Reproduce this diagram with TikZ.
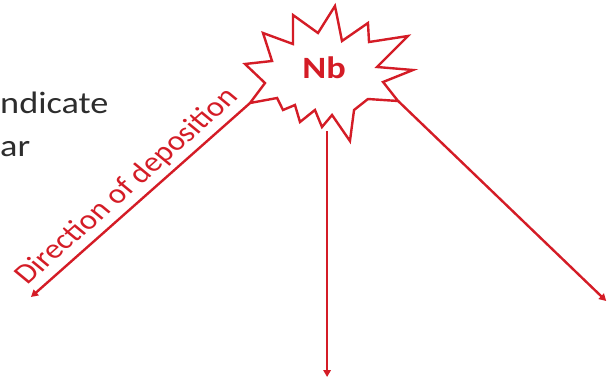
\documentclass[tikz,border=0pt]{standalone}
\usepackage{fontspec}
\setmainfont{Carlito}
\usetikzlibrary{arrows.meta}
\definecolor{nbred}{RGB}{212,28,38}
\definecolor{txtgray}{RGB}{45,45,45}
\tikzset{
  redline/.style={draw=nbred, line width=2.4pt, line join=miter},
  redarrow/.style={draw=nbred, line width=2.4pt, -{Triangle[length=7pt,width=7.5pt]}},
  sidetext/.style={inner sep=0pt, anchor=base west, text=txtgray, font=\fontsize{31}{36}\selectfont},
  nblabel/.style={inner sep=0pt, anchor=base, text=nbred, font=\fontsize{31}{37}\selectfont\bfseries},
  dirlabel/.style={inner sep=0pt, anchor=base, text=nbred, font=\fontsize{28}{33}\selectfont, rotate=46}
}
\begin{document}
\begin{tikzpicture}[x=1pt, y=-1pt, xscale=1.17, every node/.append style={transform shape}]
\useasboundingbox (0,0) rectangle (526.5,391);
% starburst
\draw[redline, fill=white]
  (209.4,64) -- (232.5,61) -- (224.8,33) -- (250.4,44) -- (250.4,15) -- (271.8,33)
  -- (286.3,6) -- (292.3,41) -- (314.5,23) -- (315.4,42) -- (348.7,36) -- (322.2,67)
  -- (353,70) -- (327.4,82) -- (340.2,101) -- (314.5,99) -- (302.6,110) -- (299.1,141)
  -- (283.8,115) -- (275.2,127) -- (269.2,110) -- (256.4,122) -- (252.1,105) -- (241.9,110)
  -- (236.8,98) -- (213.7,103) -- (226.5,83) -- cycle;
\node[nblabel] (nb) at (277,78) {Nb};
% arrow anchors
\coordinate (sl) at (213.7,103);
\coordinate (tl) at (26.5,297);
\coordinate (sm) at (279.5,131);
\coordinate (tm) at (279.5,377);
\coordinate (sr) at (340.2,101);
\coordinate (tr) at (518,301);
\draw[redarrow] (sl) -- (tl);
\draw[redarrow] (sm) -- (tm);
\draw[redarrow] (sr) -- (tr);
\node[dirlabel] (dir) at (114,192) {Direction of deposition};
% cut-off text on the left
\node[sidetext] (t1) at (0,113) {ndicate};
\node[sidetext] (t2) at (0,156) {ar};
\end{tikzpicture}
\end{document}
